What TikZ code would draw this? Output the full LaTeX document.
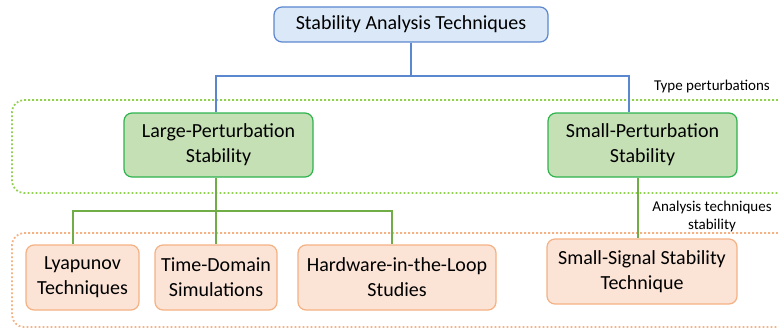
\documentclass[tikz,border=0pt]{standalone}
\usepackage{fontspec}
\setmainfont{Carlito}
\usetikzlibrary{calc}
\definecolor{topfill}{HTML}{DAE8F7}
\definecolor{topdraw}{HTML}{5B87CF}
\definecolor{grfill}{HTML}{C5E0B4}
\definecolor{grdraw}{HTML}{2FB34E}
\definecolor{grline}{HTML}{70AD47}
\definecolor{grframe}{HTML}{92D050}
\definecolor{orfill}{HTML}{FBE3D6}
\definecolor{ordraw}{HTML}{F4B183}
\begin{document}
\begin{tikzpicture}[x=1pt,y=-1pt,
  box/.style={rounded corners=8pt, line width=1.2pt, align=center, inner sep=0pt,
    font=\fontsize{20}{25}\selectfont},
  topbox/.style={box, fill=topfill, draw=topdraw},
  grbox/.style={box, fill=grfill, draw=grdraw},
  orbox/.style={box, fill=orfill, draw=ordraw},
  blueline/.style={draw=topdraw, line width=1.2pt},
  greenline/.style={draw=grline, line width=1.2pt},
  frame/.style={line width=1.8pt, dash pattern=on 1.8pt off 2.2pt, rounded corners=12pt},
  lab/.style={font=\fontsize{15}{18}\selectfont, align=center, inner sep=0pt}]
\useasboundingbox (0,0) rectangle (778,329);
% frames
\draw[frame, draw=grframe] (778,100) -- (12,100) -- (12,193) -- (778,193);
\draw[frame, draw=ordraw] (778,233) -- (12,233) -- (12,327) -- (778,327);
% nodes
\node[topbox, minimum width=274pt, minimum height=35pt] (top) at (411,24.5) {Stability Analysis Techniques};
\node[grbox, minimum width=189pt, minimum height=64pt] (large) at (218.5,145) {Large-Perturbation\\Stability};
\node[grbox, minimum width=189pt, minimum height=64pt] (small) at (642.5,145) {Small-Perturbation\\Stability};
\node[orbox, minimum width=113pt, minimum height=65pt] (lyap) at (82.5,277.5) {Lyapunov\\Techniques};
\node[orbox, minimum width=122pt, minimum height=65pt] (tds) at (216,277.5) {Time-Domain\\Simulations};
\node[orbox, minimum width=198pt, minimum height=65pt] (hil) at (397,277.5) {Hardware-in-the-Loop\\Studies};
\node[orbox, minimum width=190pt, minimum height=65pt] (sss) at (642,271.5) {Small-Signal Stability\\Technique};
% labels
\node[lab, anchor=east] (typelab) at (770,87) {Type perturbations};
\node[lab] (analab) at (712,216) {Analysis techniques\\stability};
% connectors
\coordinate (bj) at (411,76);
\draw[blueline] (top.south) -- (bj);
\draw[blueline] (bj) -| ([xshift=-2.5pt]large.north);
\draw[blueline] (bj) -| ([xshift=-13.5pt]small.north);
\coordinate (gj) at (216,211);
\draw[greenline] ([xshift=-2.5pt]large.south) -- (gj);
\draw[greenline] (gj) -| ([xshift=-9.5pt]lyap.north);
\draw[greenline] (gj) -- (tds.north);
\draw[greenline] (gj) -| ([xshift=-5pt]hil.north);
\draw[greenline] ([xshift=-4.5pt]small.south) -- ([xshift=-4pt]sss.north);
\end{tikzpicture}
\end{document}
